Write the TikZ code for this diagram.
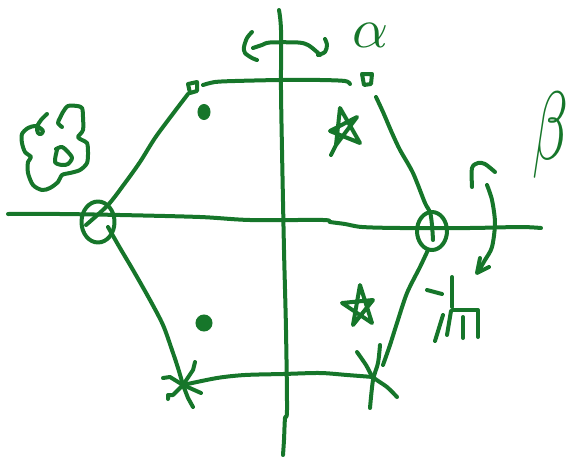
\documentclass[tikz,border=0pt]{standalone}
\usepackage{graphicx}
\definecolor{pen}{RGB}{22,118,42}
\begin{document}
\begin{tikzpicture}[x=1pt,y=-1pt,
  ink/.style={draw=pen,line width=4pt,line cap=round,line join=round},
  blot/.style={fill=pen,draw=pen,line width=1pt},
  glyph/.style={text=pen,inner sep=0pt,outer sep=0pt}]
\useasboundingbox (0,0) rectangle (574,458);
% vertices
\coordinate (tl) at (193,88);
\coordinate (tr) at (367,80);
\coordinate (lc) at (98,222);
\coordinate (rc) at (432,231);
\coordinate (bl) at (183,385);
\coordinate (br) at (373,377);
% axes
\draw[ink] plot[smooth] coordinates {(8,214) (60,214) (120,215) (200,217) (250,220) (323,220) (330,222) (345,224) (362,227) (400,228) (470,228) (520,227) (541,228)};
\draw[ink] plot[smooth] coordinates {(279,10) (281,30) (281,90) (282,150) (284,250) (286,330) (287,410) (285,418) (284,440) (283,455)};
% vertex marks
\draw[ink] (188,84) -- (197,82) -- (197,91) -- (190,93) -- cycle;
\draw[ink] (362,74) -- (372,74) -- (371,84) -- (364,85) -- cycle;
\draw[ink] (lc) ellipse [x radius=16.5, y radius=20.5];
\draw[ink] (rc) ellipse [x radius=15, y radius=19];
% hexagon edges
\draw[ink] plot[smooth] coordinates {(203,85) (215,82) (235,81) (280,80) (320,80) (345,81) (350,84)};
\draw[ink] plot[smooth] coordinates {(188,94) (172,115) (155,138) (140,162) (125,183) (108,205) (86,225)};
\draw[ink] plot[smooth] coordinates {(108,227) (120,248) (133,270) (150,300) (163,325) (172,350) (178,368) (bl)};
\draw[ink] plot[smooth] coordinates {(bl) (217,378) (245,375) (283,374) (320,373) (347,375) (br)};
\draw[ink] plot[smooth] coordinates {(376,97) (383,112) (392,133) (400,150) (413,173) (425,203) (430,212) (432,225) (433,240)};
\draw[ink] plot[smooth] coordinates {(428,250) (420,267) (407,293) (397,323) (390,345) (383,365)};
% bottom-left burst
\draw[ink] (bl) -- (170,377) -- (163,378);
\draw[ink] (bl) -- (193,370) -- (195,362);
\draw[ink] (bl) -- (201,393);
\draw[ink] (bl) -- (173,395) -- (168,395) -- (168,399);
\draw[ink] (bl) -- (188,398) -- (193,407);
% bottom-right cross
\draw[ink] plot[smooth] coordinates {(357,352) (366,365) (br) (387,387) (397,397)};
\draw[ink] plot[smooth] coordinates {(380,345) (378,363) (373,380) (370,408)};
% dots
\fill[blot] (204,112) ellipse [x radius=6, y radius=7.5];
\fill[blot] (204,323) circle (8);
% stars
\draw[ink] (331,155) -- (336,145) -- (340,108) -- (360,143) -- (330,131) -- (357,117) -- (336,145);
\draw[ink] (360,285) -- (353,325) -- (373,300) -- (342,303) -- (372,323) -- cycle;
% top rotation arrow
\draw[ink] plot[smooth] coordinates {(252,32) (247,38) (244,47) (245,53) (252,58) (257,60)};
\draw[ink] plot[smooth] coordinates {(253,48) (262,45) (270,42.5) (298,42.5) (308,45) (317,52) (320,55)};
\draw[ink] plot[smooth] coordinates {(318,55) (325,52) (327,45) (325,39)};
% right rotation arrow
\draw[ink] plot[smooth] coordinates {(472,187) (472,168) (478,163) (485,164) (495,172)};
\draw[ink] plot[smooth] coordinates {(487,185) (492,200) (495,223) (492,247) (485,260) (478,272)};
\draw[ink] (480,258) -- (477,273) -- (489,267);
% left doodle
\draw[ink] plot[smooth] coordinates {(47,114) (41,120) (37,127) (38,133) (41,134) (43,131) (40,128) (35,126) (28,128) (22,134) (22,143) (25,152) (31,157) (28,162) (28,173) (33,185) (42,190) (50,188) (58,182) (62,175) (70,173) (80,170) (87,163) (88,152) (87,143) (82,140) (78,137) (83,130) (83,117) (82,108) (77,106) (68,106) (63,112) (60,118) (58,123) (62,127)};
\draw[ink] plot[smooth] coordinates {(57,150) (55,162) (62,165) (68,164) (72,158) (68,152) (62,147) (56,149)};
% bottom-right scribble
\draw[ink] (427,290) -- (442,294);
\draw[ink] (452,277) -- (452,307);
\draw[ink] (453,310) -- (478,310) -- (478,337);
\draw[ink] (463,317) -- (463,338);
\draw[ink] (443,315) -- (435,341);
\draw[ink] (451,311) -- (447,335);
% letters
\node[glyph] (alpha) at (371,35) {\scalebox{5.6}{$\alpha$}};
\node[glyph] (beta) at (550,135) {\scalebox{5.8}[9.7]{$\beta$}};
\end{tikzpicture}
\end{document}
